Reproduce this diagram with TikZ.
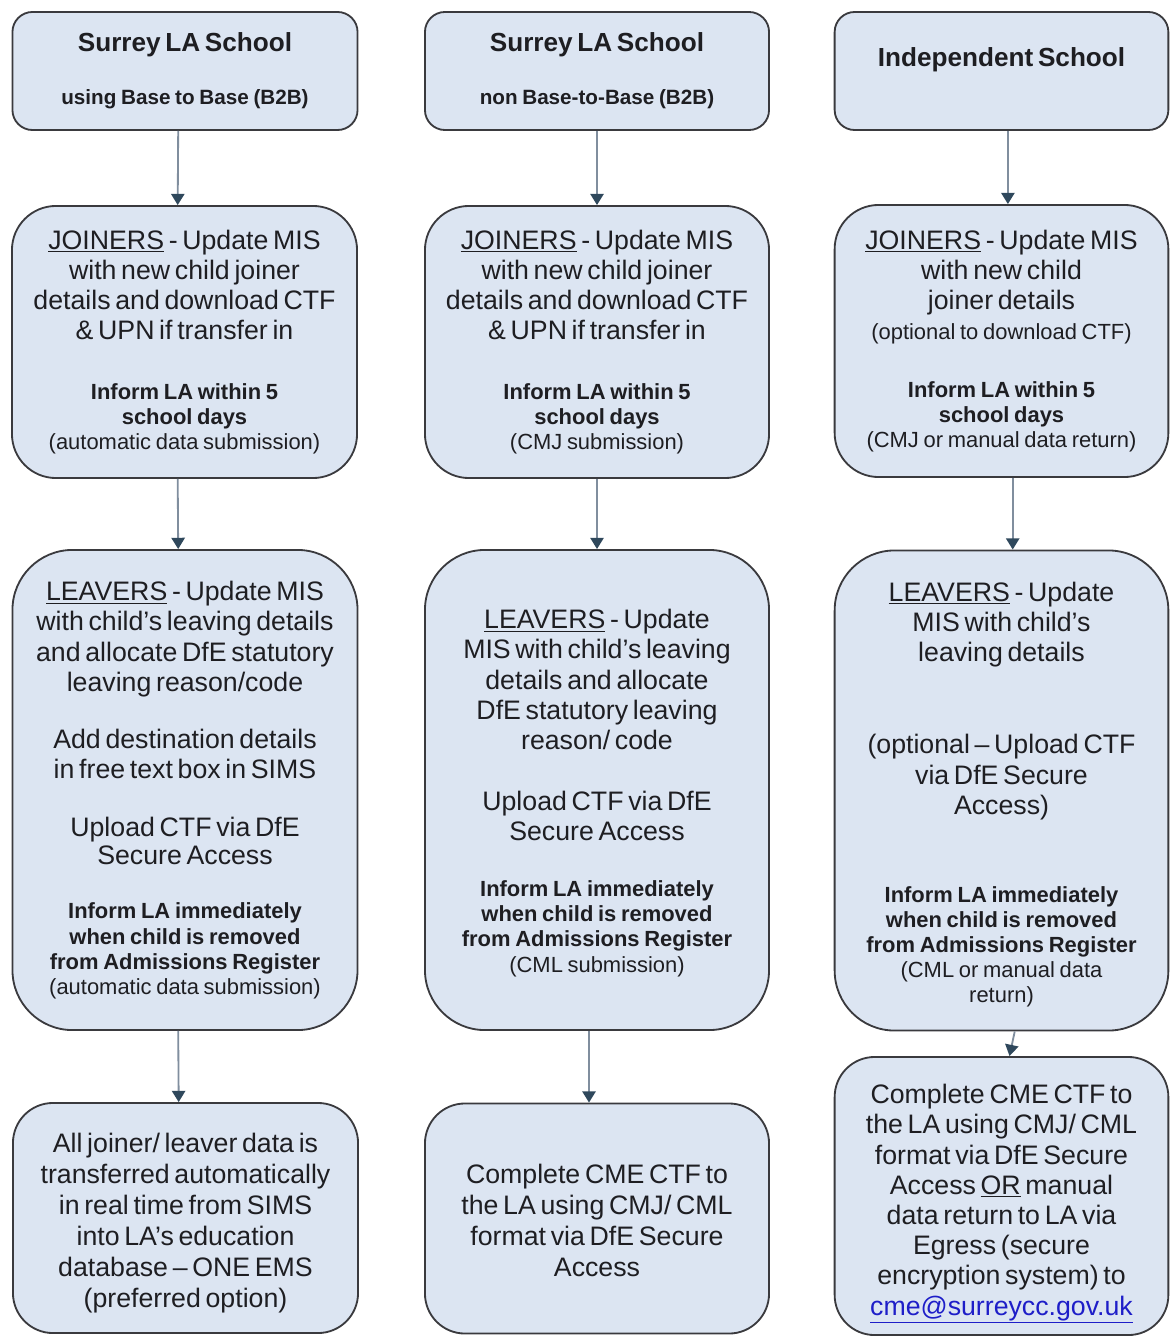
\documentclass[tikz,border=0pt]{standalone}
\usepackage{fontspec}
\setmainfont{Liberation Sans}
\usetikzlibrary{arrows.meta}

\definecolor{boxfill}{RGB}{220,229,242}
\definecolor{boxline}{RGB}{58,58,62}
\definecolor{flowline}{RGB}{128,142,158}
\definecolor{flowhead}{RGB}{47,72,92}
\definecolor{textcol}{RGB}{30,30,34}
\definecolor{linkblue}{RGB}{30,30,200}

\newcommand\bigtxt{\fontsize{19}{21.5}\selectfont}
\newcommand\smtxt{\fontsize{15.6}{17.8}\selectfont}
\newcommand\ttltxt{\fontsize{18.6}{21.4}\selectfont\bfseries}
\newcommand\subtxt{\fontsize{14.7}{17}\selectfont\bfseries}
\newcommand\topgap[1]{\rule{0pt}{#1}}

\tikzset{
  stagebox/.style={draw=boxline, line width=1.3pt, fill=boxfill, text=textcol,
    align=center, inner xsep=2pt, inner ysep=0pt},
  colA/.style={minimum width=8.625cm, text width=8.45cm},
  colB/.style={minimum width=8.6cm, text width=8.45cm},
  colC/.style={minimum width=8.325cm, text width=8.2cm},
  rowtop/.style={rounded corners=0.5cm, minimum height=2.95cm},
  rowjoin/.style={rounded corners=1.1cm, minimum height=6.8cm},
  rowleave/.style={rounded corners=1.5cm, minimum height=12cm},
  rowend/.style={rounded corners=1cm, minimum height=5.75cm},
  flow/.style={draw=flowline, line width=1.3pt,
    -{Triangle[length=8pt,width=9.5pt,color=flowhead]}},
}

\begin{document}
\begin{tikzpicture}[x=0.025cm, y=-0.025cm]
\useasboundingbox (0,0) rectangle (1169,1339);

% School types
\node[stagebox, colA, rowtop] (top1) at (185,71)
  {{\ttltxt Surrey LA School\par}\vspace{20.7pt}{\subtxt using Base to Base (B2B)\par}};
\node[stagebox, colB, rowtop] (top2) at (597,71)
  {{\ttltxt Surrey LA School\par}\vspace{20.7pt}{\subtxt non Base-to-Base (B2B)\par}};
\node[stagebox, colC, rowtop] (top3) at (1001.5,71)
  {{\ttltxt Independent School\\[-2pt]\mbox{}\par}};

% Joiners
\node[stagebox, colA, rowjoin] (join1) at (184.5,342)
  {{\bigtxt\underline{JOINERS} - Update MIS\\ with new child joiner\\ details and download CTF\\ \& UPN if transfer in\par}
   \vspace{24.9pt}
   {\smtxt\textbf{Inform LA within 5}\\ \textbf{school days}\\ (automatic data submission)\par}};
\node[stagebox, colB, rowjoin] (join2) at (597,342)
  {{\bigtxt\underline{JOINERS} - Update MIS\\ with new child joiner\\ details and download CTF\\ \& UPN if transfer in\par}
   \vspace{24.9pt}
   {\smtxt\textbf{Inform LA within 5}\\ \textbf{school days}\\ (CMJ submission)\par}};
\node[stagebox, colC, rowjoin] (join3) at (1001.5,341)
  {{\bigtxt\underline{JOINERS} - Update MIS\\ with new child\\ joiner details\par}
   \vspace{3.5pt}
   {\smtxt (optional to download CTF)\par}
   \vspace{23pt}
   {\smtxt\textbf{Inform LA within 5}\\ \textbf{school days}\\ (CMJ or manual data return)\par}};

% Leavers
\node[stagebox, colA, rowleave] (leave1) at (185,790)
  {{\bigtxt\underline{LEAVERS} - Update MIS\\ with child’s leaving details\\ and allocate DfE statutory\\ leaving reason/code\par}
   \vspace{19pt}
   {\bigtxt Add destination details\\ in free text box in SIMS\par}
   \vspace{19.8pt}
   {\bigtxt Upload CTF via DfE\\[-2pt] Secure Access\par}
   \vspace{21.2pt}
   {\smtxt\textbf{Inform LA immediately}\\ \textbf{when child is removed}\\ \textbf{from Admissions Register}\\ (automatic data submission)\par}};
\node[stagebox, colB, rowleave] (leave2) at (597,790)
  {{\bigtxt\topgap{18pt}\underline{LEAVERS} - Update\\ MIS with child’s leaving\\ details and allocate\\ DfE statutory leaving\\ reason/ code\par}
   \vspace{21.9pt}
   {\bigtxt Upload CTF via DfE\\ Secure Access\par}
   \vspace{22pt}
   {\smtxt\textbf{Inform LA immediately}\\ \textbf{when child is removed}\\ \textbf{from Admissions Register}\\ (CML submission)\par}};
\node[stagebox, colC, rowleave] (leave3) at (1001.5,790.5)
  {{\bigtxt\topgap{19.6pt}\underline{LEAVERS} - Update\\ MIS with child’s\\ leaving details\par}
   \vspace{44pt}
   {\bigtxt (optional – Upload CTF\\ via DfE Secure\\ Access)\par}
   \vspace{44.8pt}
   {\smtxt\textbf{Inform LA immediately}\\ \textbf{when child is removed}\\ \textbf{from Admissions Register}\\ (CML or manual data\\ return)\par}};

% Data return
\node[stagebox, colA, rowend] (end1) at (185.5,1218)
  {{\fontsize{19}{22}\selectfont\topgap{21pt}All joiner/ leaver data is\\ transferred automatically\\ in real time from SIMS\\ into LA’s education\\ database – ONE EMS\\ (preferred option)\par}};
\node[stagebox, colB, rowend] (end2) at (597,1218.5)
  {{\fontsize{19}{22}\selectfont\topgap{17pt}Complete CME CTF to\\ the LA using CMJ/ CML\\ format via DfE Secure\\ Access\par}};
\node[stagebox, colC, rowend, minimum height=6.95cm] (end3) at (1001.5,1196)
  {{\bigtxt\topgap{25pt}Complete CME CTF to\\ the LA using CMJ/ CML\\ format via DfE Secure\\ Access \underline{OR} manual\\ data return to LA via\\ Egress (secure\\ encryption system) to\\ \textcolor{linkblue}{\underline{cme@surreycc.gov.uk}}\par}};

% Arrows
\draw[flow] ([xshift=-0.17cm]top1.south) -- ([xshift=-0.17cm]join1.north);
\draw[flow] ([xshift=-0.17cm]join1.south) -- ([xshift=-0.17cm]leave1.north);
\draw[flow] ([xshift=-0.17cm]leave1.south) -- ([xshift=-0.17cm]end1.north);
\draw[flow] (top2.south) -- (join2.north);
\draw[flow] (join2.south) -- (leave2.north);
\draw[flow] ([xshift=-0.2cm]leave2.south) -- ([xshift=-0.2cm]end2.north);
\draw[flow] ([xshift=0.16cm]top3.south) -- ([xshift=0.16cm]join3.north);
\draw[flow] ([xshift=0.28cm]join3.south) -- ([xshift=0.28cm]leave3.north);
\draw[flow] ([xshift=0.33cm]leave3.south) -- ([xshift=0.2cm]end3.north);
\end{tikzpicture}
\end{document}
